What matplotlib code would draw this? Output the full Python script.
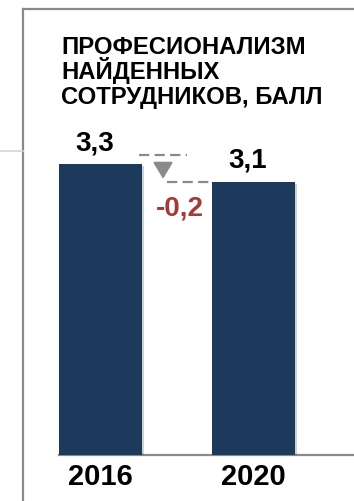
import matplotlib
matplotlib.use('Agg')
import matplotlib.pyplot as plt
from matplotlib.lines import Line2D
from matplotlib import patheffects as pe

# professionalism score of hired staff
years = ['2016', '2020']
scores = [3.3, 3.1]
title_lines = ['ПРОФЕСИОНАЛИЗМ', 'НАЙДЕННЫХ', 'СОТРУДНИКОВ, БАЛЛ']

plt.rcParams['font.family'] = ['Liberation Sans', 'DejaVu Sans']

W, H = 354, 501
BAR_COLOR = '#1b3a5c'
GRAY = '#8a8a8a'
RED = '#a23b38'
DASH = (0, (4.6, 2.4))

fig = plt.figure(figsize=(W / 100, H / 100), dpi=100)

# panel frame and the divider sticking out to the left
fig.add_artist(Line2D([23 / W, 1], [1 - 9 / H, 1 - 9 / H], color=GRAY, lw=1.6))
fig.add_artist(Line2D([23 / W, 23 / W], [0, 1 - 9 / H], color=GRAY, lw=1.6))
fig.add_artist(Line2D([0, 23 / W], [1 - 151 / H, 1 - 151 / H], color='#d4d4d4', lw=1.2))

for i, line in enumerate(title_lines):
    fig.text(61 / W, 1 - (54 + 25 * i) / H, line, ha='left', va='baseline',
             fontsize=17.2, fontweight='bold', color='black')

ax = fig.add_axes([59 / W, (H - 455) / H, (W - 59) / W, (455 - 9) / H])
ax.patch.set_visible(False)
ax.set_xlim(-0.27, -0.27 + 295 / 153)
ax.set_ylim(0, 446 / (291 / 3.3))

x = list(range(len(years)))
bars = ax.bar(x, scores, width=0.54, color=BAR_COLOR, zorder=3)
for b in bars:
    b.set_path_effects([pe.SimplePatchShadow(offset=(1.5, -1.5), shadow_rgbFace='black', alpha=0.18),
                        pe.Normal()])

for xi, v in zip(x, scores):
    ax.annotate(f'{v:.1f}'.replace('.', ','), (xi, v), xytext=(-4, 10), textcoords='offset points',
                ha='center', va='baseline', fontsize=20, fontweight='bold', color='black')

# change marker between the two bars
diff = scores[1] - scores[0]
top = scores[0] + 0.1
ax.plot([0.25, 0.565], [top, top], color=GRAY, lw=1.6, ls=DASH, zorder=2)
ax.plot([0.435, 0.73], [scores[1], scores[1]], color=GRAY, lw=1.6, ls=DASH, zorder=2)
ax.annotate('', xy=(0.41, scores[1]), xytext=(0.41, top - 0.1),
            arrowprops=dict(arrowstyle='-|>,head_length=1.0,head_width=0.6', color=GRAY, lw=1.6))
ax.annotate(f'{diff:.1f}'.replace('.', ','), (0.52, scores[1]), xytext=(0, -24.5), textcoords='offset points',
            ha='center', va='baseline', fontsize=20, fontweight='bold', color=RED)

ax.set_xticks(x)
ax.set_xticklabels(years, fontsize=21, fontweight='bold')
ax.tick_params(axis='x', length=0, pad=5.5)
ax.set_yticks([])
for side in ['top', 'right', 'left']:
    ax.spines[side].set_visible(False)
ax.spines['bottom'].set_color(GRAY)
ax.spines['bottom'].set_linewidth(1.6)

fig.savefig('out.png', dpi=100)
